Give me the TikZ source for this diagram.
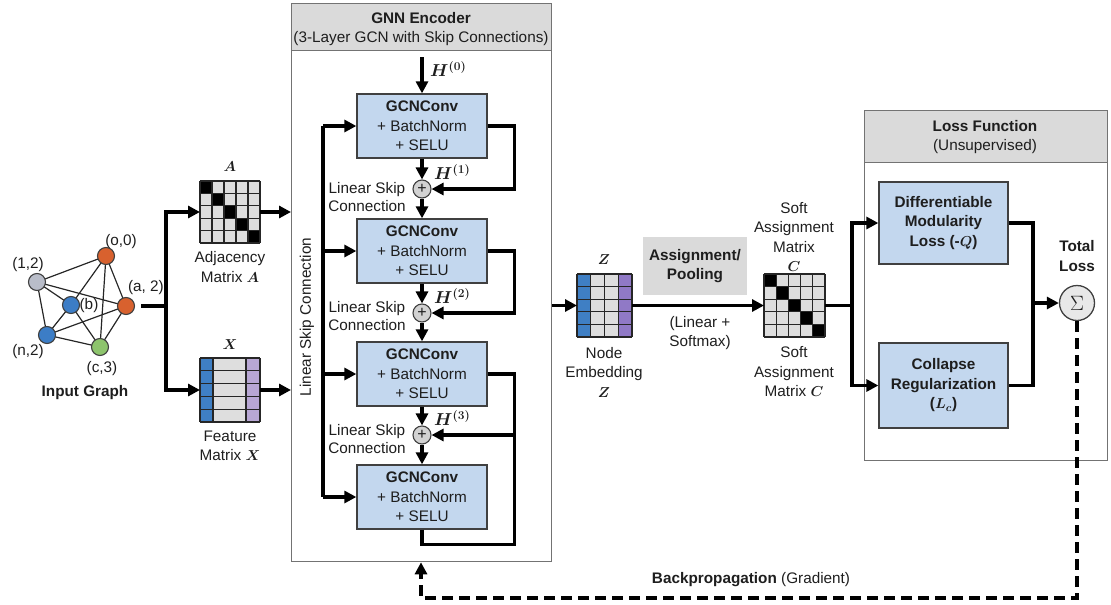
\documentclass[tikz,border=0pt]{standalone}
\usepackage{fontspec}
\setmainfont{Liberation Sans}
\usepackage{amsmath,bm}
\usetikzlibrary{arrows.meta,calc}
\pgfdeclarelayer{bg}
\pgfsetlayers{bg,main}
\definecolor{boxblue}{HTML}{C3D7EE}
\definecolor{hdrgray}{HTML}{DADADA}
\definecolor{cellgray}{HTML}{DEDEDE}
\definecolor{cellblue}{HTML}{3F7FC4}
\definecolor{cellpurpleX}{HTML}{B8A7D4}
\definecolor{cellpurpleZ}{HTML}{9079C6}
\definecolor{norange}{HTML}{D8612E}
\definecolor{nblue}{HTML}{3C7DC6}
\definecolor{ngray}{HTML}{B9BDC9}
\definecolor{ngreen}{HTML}{8DC46C}
\definecolor{txt}{HTML}{1E1E1E}
\newcommand\myfs{\fontsize{15.3}{19.5}\selectfont}
\newcommand\mygrid[6]{%
  \foreach \q in {0,...,#5} \draw[gridln] ({#1+#3*\q/#5},#2) -- ++(0,#4);
  \foreach \q in {0,...,#6} \draw[gridln] (#1,{#2+#4*\q/#6}) -- ++(#3,0);}
\begin{document}
\begin{tikzpicture}[x=1pt,y=-1pt,font=\myfs,text=txt,
  arr/.style={line width=3.2pt,draw=black,-{Triangle[length=12pt,width=12pt]}},
  ln/.style={line width=3.2pt,draw=black},
  gridln/.style={line width=1.1pt,draw=black!85},
  gcn/.style={draw=black!75,line width=1.3pt,fill=boxblue,minimum width=130pt,minimum height=64pt,align=center,inner sep=0pt},
  lossbox/.style={draw=black!75,line width=1.3pt,fill=boxblue,minimum width=129pt,align=center,inner sep=0pt},
  plus/.style={circle,draw=black!75,line width=1.1pt,fill=gray!35,minimum size=18pt,inner sep=0pt,font=\fontsize{16}{16}\selectfont},
  gnode/.style={circle,draw=black!75,line width=1.1pt,minimum size=17pt,inner sep=0pt},
  gedge/.style={line width=1.2pt,draw=black!85},
  mat/.style={minimum width=#1,inner sep=0pt,outer sep=0pt},
  lbl/.style={align=center,inner sep=0pt},
  skiplbl/.style={align=center,inner sep=0pt,font=\fontsize{15.3}{17.5}\selectfont},
  hlbl/.style={inner sep=0pt,font=\fontsize{16.5}{16.5}\selectfont},
  frame/.style={draw=black!55,line width=1.3pt,anchor=north west,inner sep=0pt}
]
\useasboundingbox (0,0) rectangle (1111,605);

% ---------------- Input graph ----------------
\node[gnode,fill=ngray]   (n12) at (37,282) {};
\node[gnode,fill=norange] (no0) at (106,256) {};
\node[gnode,fill=nblue]   (nb)  at (71,305) {};
\node[gnode,fill=norange] (na2) at (126,306) {};
\node[gnode,fill=nblue]   (nn2) at (47,335) {};
\node[gnode,fill=ngreen]  (nc3) at (100,347) {};
\begin{pgfonlayer}{bg}
\foreach \u/\v in {n12/no0,n12/na2,n12/nb,n12/nn2,no0/nb,no0/nc3,no0/na2,nb/nn2,nb/nc3,nn2/na2,nn2/nc3,na2/nc3}
  \draw[gedge] (\u.center) -- (\v.center);
\end{pgfonlayer}
\node[lbl] (l12) at (28,265) {(1,2)};
\node[lbl] (lo0) at (121,242) {(o,0)};
\node[lbl] (lb)  at (89,306) {(b)};
\node[lbl] (la2) at (146,288) {(a, 2)};
\node[lbl] (ln2) at (28,352) {(n,2)};
\node[lbl] (lc3) at (102,369) {(c,3)};
\node[lbl,font=\bfseries\myfs] (lin) at (85,393) {Input Graph};

% ---------------- Adjacency matrix A ----------------
\node[mat=60pt,minimum height=62pt] (A) at (230,212) {};
\fill[cellgray] (200,181) rectangle (260,243);
\foreach \k in {0,...,4} \fill[black] ({200+12*\k},{181+12.4*\k}) rectangle ++(12,12.4);
\mygrid{200}{181}{60}{62}{5}{5}
\node[lbl] (Atop) at (230,167) {$\bm{A}$};
\node[lbl] (Alab) at (230,267) {Adjacency\\Matrix $\bm{A}$};

% ---------------- Feature matrix X ----------------
\node[mat=60pt,minimum height=64pt] (X) at (230,390) {};
\fill[cellgray] (200,358) rectangle (260,422);
\fill[cellblue] (200,358) rectangle (213,422);
\fill[cellpurpleX] (246,358) rectangle (260,422);
\foreach \q in {0,...,5} \draw[gridln] (200,{358+12.8*\q}) -- ++(60,0);
\foreach \xx in {200,213,246,260} \draw[gridln] (\xx,358) -- (\xx,422);
\node[lbl] (Xtop) at (230,345) {$\bm{X}$};
\node[lbl] (Xlab) at (230,446) {Feature\\Matrix $\bm{X}$};

% split from graph
\coordinate (split1) at (166,306);
\draw[ln] ($(na2.east)+(6,0)$) -- (split1);
\draw[arr] (split1) |- (A.west);
\draw[arr] (split1) |- (X.west);

% ---------------- GNN Encoder ----------------
\node[frame,minimum width=260pt,minimum height=558pt] (enc) at (291,3) {};
\node[frame,fill=hdrgray,minimum width=260pt,minimum height=47pt] (enchdr) at (291,3) {};
\node[lbl] (enctitle) at (421,29) {\textbf{GNN Encoder}\\(3-Layer GCN with Skip Connections)};

\draw[arr] (A.east) -- (A.east -| enc.west);
\draw[arr] (X.east) -- (X.east -| enc.west);

\node[gcn] (g1) at (422,126) {\textbf{GCNConv}\\+ BatchNorm\\+ SELU};
\node[gcn] (g2) at (422,251) {\textbf{GCNConv}\\+ BatchNorm\\+ SELU};
\node[gcn] (g3) at (422,374) {\textbf{GCNConv}\\+ BatchNorm\\+ SELU};
\node[gcn] (g4) at (422,497) {\textbf{GCNConv}\\+ BatchNorm\\+ SELU};
\node[plus] (p1) at (422,189) {+};
\node[plus] (p2) at (422,313) {+};
\node[plus] (p3) at (422,435) {+};

\coordinate (h0) at (422,57);
\draw[arr] (h0) -- (g1.north);
\node[hlbl,anchor=west] (H0) at (430,69) {$\bm{H^{(0)}}$};
\draw[arr] (g1.south) -- (p1.north);
\draw[arr] (p1.south) -- (g2.north);
\draw[arr] (g2.south) -- (p2.north);
\draw[arr] (p2.south) -- (g3.north);
\draw[arr] (g3.south) -- (p3.north);
\draw[arr] (p3.south) -- (g4.north);
\node[hlbl,anchor=west] (H1) at (434,172) {$\bm{H^{(1)}}$};
\node[hlbl,anchor=west] (H2) at (434,296) {$\bm{H^{(2)}}$};
\node[hlbl,anchor=west] (H3) at (434,418) {$\bm{H^{(3)}}$};

% residual loops on the right
\draw[arr] (g1.east) -- ++(27,0) |- (p1.east);
\draw[arr] (g2.east) -- ++(27,0) |- (p2.east);
\draw[arr] (g3.east) -- ++(27,0) |- (p3.east);
\draw[ln] (g4.south) -- ++(0,15) -| ($(g3.east)+(27,0)$);

% linear skip on the left
\coordinate (sktop) at (323,126);
\coordinate (skbot) at (323,497);
\draw[ln] (sktop) -- (skbot);
\draw[arr] (sktop) -- (g1.west);
\draw[arr] (323,251) -- (g2.west);
\draw[arr] (323,374) -- (g3.west);
\draw[arr] (skbot) -- (g4.west);
\node[lbl,rotate=90] (sklbl) at (307,317) {Linear Skip Connection};

\node[skiplbl] (s1) at (367,197) {Linear Skip\\Connection};
\node[skiplbl] (s2) at (367,316) {Linear Skip\\Connection};
\node[skiplbl] (s3) at (367,439) {Linear Skip\\Connection};

% ---------------- Node embedding Z ----------------
\node[mat=55pt,minimum height=63pt] (Z) at (604.5,305.5) {};
\fill[cellgray] (577,274) rectangle (632,337);
\fill[cellblue] (577,274) rectangle (590.75,337);
\fill[cellpurpleZ] (618.25,274) rectangle (632,337);
\mygrid{577}{274}{55}{63}{4}{5}
\node[lbl] (Ztop) at (604,260) {$\bm{Z}$};
\node[lbl] (Zlab) at (604,372) {Node\\Embedding\\$\bm{Z}$};
\draw[arr] (enc.east |- Z.west) -- (Z.west);

% ---------------- Assignment ----------------
\node[fill=hdrgray,minimum width=104pt,minimum height=58pt,align=center,inner sep=0pt,font=\bfseries\myfs] (assign) at (695,266) {Assignment/\\Pooling};
\node[lbl] (linsm) at (700,333) {(Linear +\\Softmax)};

% ---------------- Soft assignment C ----------------
\node[mat=61pt,minimum height=63pt] (C) at (794.5,305.5) {};
\fill[cellgray] (764,274) rectangle (825,337);
\foreach \k in {0,...,4} \fill[black] ({764+12.2*\k},{274+12.6*\k}) rectangle ++(12.2,12.6);
\mygrid{764}{274}{61}{63}{5}{5}
\node[lbl] (Ctop) at (794,237) {Soft\\Assignment\\Matrix\\$\bm{C}$};
\node[lbl] (Clab) at (794,372) {Soft\\Assignment\\Matrix $\bm{C}$};
\draw[arr] (Z.east) -- (C.west);

% ---------------- Loss function ----------------
\node[frame,minimum width=243pt,minimum height=350pt] (loss) at (864,110) {};
\node[frame,fill=hdrgray,minimum width=243pt,minimum height=52pt] (losshdr) at (864,110) {};
\node[lbl] (losstitle) at (985,137) {\textbf{Loss Function}\\(Unsupervised)};
\node[lossbox,minimum height=82pt,font=\bfseries\myfs] (dml) at (943.5,223) {Differentiable\\Modularity\\Loss (-$\bm{Q}$)};
\node[lossbox,minimum height=85pt,font=\bfseries\myfs] (col) at (943.5,385.5) {Collapse\\Regularization\\($\bm{L_c}$)};

\coordinate (split2) at (852,305.5);
\draw[ln] (C.east) -- (split2);
\draw[arr] (split2) |- (dml.west);
\draw[arr] (split2) |- (col.west);

\node[circle,draw=black!75,line width=1.3pt,fill=gray!18,minimum size=35pt,inner sep=0pt,font=\fontsize{20}{20}\selectfont] (sum) at (1077,303) {$\Sigma$};
\node[lbl,font=\bfseries\myfs] (totl) at (1077,256) {Total\\Loss};
\coordinate (j2) at (1033,303);
\draw[ln] (dml.east) -| (j2) |- (col.east);
\draw[arr] (j2) -- (sum.west);

% ---------------- Backpropagation ----------------
\coordinate (bp1) at (1077,598);
\coordinate (bp2) at (421,598);
\draw[line width=3.2pt,dash pattern=on 11pt off 6pt,-{Triangle[length=12pt,width=12pt]}] (sum.south) -- (bp1) -- (bp2) -- (bp2 |- enc.south);
\node[lbl] (bplbl) at (751,580) {\textbf{Backpropagation} (Gradient)};
\end{tikzpicture}
\end{document}
